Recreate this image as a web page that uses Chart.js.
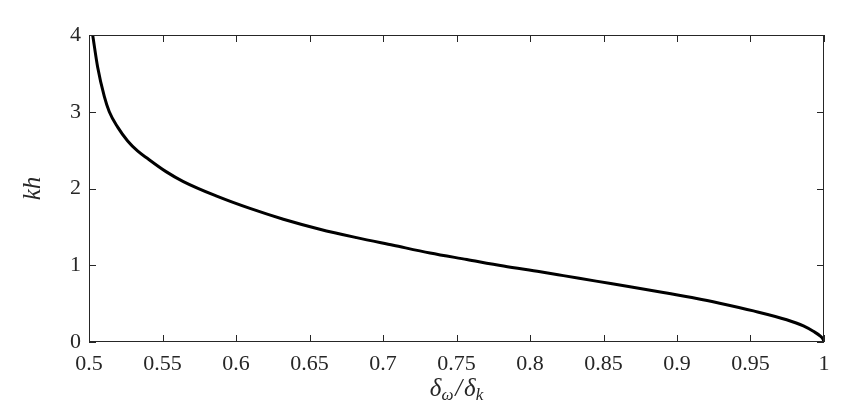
<!DOCTYPE html>
<html>
<head>
<meta charset="utf-8">
<script src="https://cdn.jsdelivr.net/npm/chart.js@4"></script>
<style>
  html, body { margin: 0; padding: 0; background: #fff; }
  #wrap { width: 844px; height: 408px; position: relative; }
</style>
</head>
<body>
<div id="wrap"><canvas id="chart"></canvas></div>
<script>
// ratio of the two deltas (x) and the resulting kh (y)
const deltaRatio = [0.5025, 0.5059, 0.5104, 0.5138, 0.5195, 0.5263, 0.533, 0.5399, 0.5524, 0.5642,
  0.5869, 0.6095, 0.6322, 0.657, 0.682, 0.707, 0.732, 0.757, 0.782, 0.807,
  0.8227, 0.845, 0.868, 0.8907, 0.9134, 0.929, 0.952, 0.9746, 0.986, 0.9927,
  0.9973, 0.9995, 1.0];
const khValues = [4.0, 3.58, 3.20, 3.0, 2.80, 2.62, 2.49, 2.39, 2.22, 2.09,
  1.90, 1.74, 1.60, 1.47, 1.36, 1.26, 1.16, 1.075, 0.99, 0.915,
  0.865, 0.793, 0.72, 0.645, 0.567, 0.505, 0.405, 0.29, 0.21, 0.14,
  0.08, 0.03, 0];

const xTickValues = [0.5, 0.55, 0.6, 0.65, 0.7, 0.75, 0.8, 0.85, 0.9, 0.95, 1];
const yTickValues = [0, 1, 2, 3, 4];

const serif = '"Liberation Serif", "DejaVu Serif", serif';
const axisColor = '#262626';

// box around the plot, inward ticks on all four sides, and the math-style axis titles
const frameAndTitles = {
  id: 'frameAndTitles',
  afterDraw(chart) {
    const { ctx, chartArea: a, scales } = chart;
    const len = 7;
    ctx.save();
    ctx.strokeStyle = axisColor;
    ctx.lineWidth = 1;
    ctx.strokeRect(a.left + 0.5, a.top + 0.5, a.right - a.left - 1, a.bottom - a.top - 1);
    ctx.beginPath();
    xTickValues.forEach(v => {
      const px = Math.round(scales.x.getPixelForValue(v)) + 0.5;
      ctx.moveTo(px, a.bottom); ctx.lineTo(px, a.bottom - len);
      ctx.moveTo(px, a.top); ctx.lineTo(px, a.top + len);
    });
    yTickValues.forEach(v => {
      const py = Math.round(scales.y.getPixelForValue(v)) + 0.5;
      ctx.moveTo(a.left, py); ctx.lineTo(a.left + len, py);
      ctx.moveTo(a.right, py); ctx.lineTo(a.right - len, py);
    });
    ctx.stroke();

    // x title: δω/δk with subscripts
    ctx.fillStyle = axisColor;
    ctx.textBaseline = 'alphabetic';
    ctx.textAlign = 'left';
    const big = 'italic 25px ' + serif;
    const small = 'italic 17px ' + serif;
    const parts = [
      { t: 'δ', f: big, dy: 0 },
      { t: 'ω', f: small, dy: 4 },
      { t: ' / ', f: 'italic 25px ' + serif, dy: 0, tight: 0.55 },
      { t: 'δ', f: big, dy: 0 },
      { t: 'k', f: small, dy: 4 }
    ];
    let total = 0;
    parts.forEach(p => {
      ctx.font = p.f;
      p.w = ctx.measureText(p.t).width * (p.tight || 1);
      total += p.w;
    });
    let x = (a.left + a.right) / 2 - total / 2;
    const baseY = 396;
    parts.forEach(p => {
      ctx.font = p.f;
      if (p.tight) {
        ctx.textAlign = 'center';
        ctx.fillText(p.t.trim(), x + p.w / 2, baseY + p.dy);
        ctx.textAlign = 'left';
      } else {
        ctx.fillText(p.t, x, baseY + p.dy);
      }
      x += p.w;
    });

    // y title: kh
    ctx.translate(40, (a.top + a.bottom) / 2);
    ctx.rotate(-Math.PI / 2);
    ctx.font = big;
    ctx.textAlign = 'center';
    ctx.fillText('kh', 0, 0);
    ctx.restore();
  }
};

new Chart(document.getElementById('chart'), {
  type: 'line',
  data: {
    labels: deltaRatio,
    datasets: [{
      data: deltaRatio.map((r, i) => ({ x: r, y: khValues[i] })),
      borderColor: '#000',
      borderWidth: 3,
      pointRadius: 0,
      fill: false,
      cubicInterpolationMode: 'monotone'
    }]
  },
  options: {
    responsive: true,
    maintainAspectRatio: false,
    animation: false,
    layout: { padding: { top: 35, right: 20, left: 0, bottom: 0 } },
    plugins: { legend: { display: false }, tooltip: { enabled: false } },
    scales: {
      x: {
        type: 'linear',
        min: 0.5,
        max: 1,
        afterBuildTicks(scale) { scale.ticks = xTickValues.map(v => ({ value: v })); },
        afterFit(scale) { scale.height = 66; },
        grid: { display: false, drawTicks: false },
        border: { display: false },
        ticks: {
          padding: 9,
          color: axisColor,
          font: { family: serif, size: 22 },
          callback: v => String(Number(v.toFixed(2)))
        }
      },
      y: {
        type: 'linear',
        min: 0,
        max: 4,
        afterBuildTicks(scale) { scale.ticks = yTickValues.map(v => ({ value: v })); },
        afterFit(scale) { scale.width = 89; },
        grid: { display: false, drawTicks: false },
        border: { display: false },
        ticks: {
          padding: 8,
          color: axisColor,
          font: { family: serif, size: 22 },
          callback: v => String(v)
        }
      }
    }
  },
  plugins: [frameAndTitles]
});
</script>
</body>
</html>
